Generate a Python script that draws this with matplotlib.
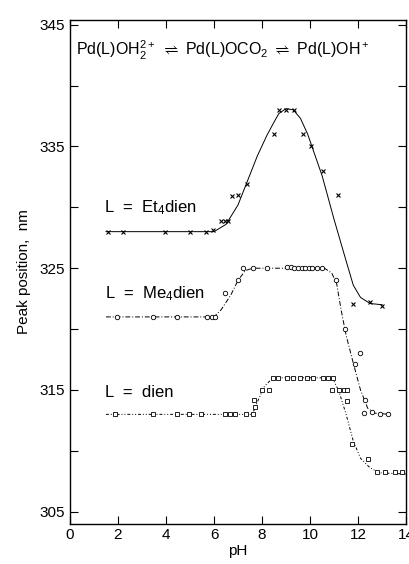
import matplotlib
matplotlib.use("Agg")
import matplotlib.pyplot as plt
from matplotlib.ticker import MultipleLocator

# --- data ---
et4_ph = [1.6, 2.2, 3.97, 5.0, 5.67, 5.97, 6.3, 6.46, 6.6, 6.74, 7.01, 7.36,
          8.5, 8.71, 8.99, 9.33, 9.72, 10.03, 10.53, 11.15, 11.8, 12.5, 13.0]
et4_nm = [328, 328, 328, 328, 328, 328.1, 328.9, 328.9, 328.9, 330.9, 331, 331.9,
          336, 338, 338, 338, 336, 335, 333, 331, 322.1, 322.2, 321.9]

me4_ph = [1.94, 3.47, 4.44, 5.69, 5.9, 6.05, 6.46, 7.01, 7.19, 7.64, 8.22,
          9.03, 9.2, 9.35, 9.5, 9.65, 9.8, 9.95, 10.1, 10.3, 10.5,
          11.07, 11.46, 11.85, 12.08, 12.3, 12.26, 12.57, 12.92, 13.26]
me4_nm = [321, 321, 321, 321, 321, 321, 323, 324, 325, 325, 325,
          325.1, 325.1, 325, 325, 325, 325, 325, 325, 325, 325,
          324, 320, 317.1, 318, 314.2, 313.1, 313.2, 313, 313]

dien_ph = [1.88, 3.47, 4.44, 4.97, 5.46, 6.46, 6.67, 6.88, 7.33, 7.64, 7.68, 7.71,
           8.0, 8.3, 8.47, 8.68, 9.03, 9.3, 9.58, 9.86, 10.14, 10.55, 10.76, 10.97,
           10.9, 11.2, 11.4, 11.53, 11.53, 11.74, 12.43, 12.8, 13.12, 13.54, 13.82]
dien_nm = [313, 313, 313, 313, 313, 313, 313, 313, 313, 313, 314.2, 313.6,
           315, 315, 316, 316, 316, 316, 316, 316, 316, 316, 316, 316,
           315, 315, 315, 315, 314.1, 310.6, 309.3, 308.3, 308.3, 308.3, 308.3]

# hand-drawn fit curves
et4_curve_ph = [1.5, 6.0, 6.5, 7.0, 7.36, 7.8, 8.2, 8.5, 8.7, 9.0, 9.3, 9.6, 9.9,
                10.2, 10.5, 11.0, 11.5, 11.8, 12.1, 12.5, 13.0]
et4_curve_nm = [328, 328, 328.6, 330.2, 332, 334.2, 335.9, 337, 337.7, 338.1, 338.0,
                337.3, 336, 334.3, 332.6, 329, 325.6, 323.6, 322.6, 322.1, 322]

me4_curve_ph = [1.5, 6.0, 6.3, 6.7, 7.0, 7.3, 7.6, 10.6, 10.9, 11.1, 11.3, 11.5,
                11.8, 12.1, 12.4, 12.7, 13.3]
me4_curve_nm = [321, 321, 321.6, 322.8, 324, 324.8, 325, 325, 324.6, 323.8, 321.5,
                319.5, 317.2, 315, 313.5, 313.1, 313]

dien_curve_ph = [1.5, 7.6, 7.8, 8.1, 8.4, 8.7, 10.8, 11.0, 11.2, 11.5, 11.8, 12.1,
                 12.5, 12.9, 14.0]
dien_curve_nm = [313, 313, 314, 315.3, 315.9, 316, 316, 315.7, 314.9, 313, 310.8,
                 309.4, 308.6, 308.2, 308.1]

plt.rcParams["font.family"] = ["Liberation Sans", "DejaVu Sans"]
plt.rcParams["mathtext.fontset"] = "custom"
plt.rcParams["mathtext.rm"] = "Liberation Sans"
plt.rcParams["mathtext.it"] = "Liberation Sans"

fig = plt.figure(figsize=(4.09, 5.64), dpi=100)
ax = fig.add_axes([0.171, 0.071, 0.822, 0.894])

ax.plot(et4_curve_ph, et4_curve_nm, color="k", lw=0.7, ls="-")
ax.plot(me4_curve_ph, me4_curve_nm, color="k", lw=0.7, ls=(0, (5, 2, 1, 2)))
ax.plot(dien_curve_ph, dien_curve_nm, color="k", lw=0.7, ls=(0, (3, 2, 1, 2, 1, 2)))

ax.plot(et4_ph, et4_nm, ls="none", marker="x", ms=3.2, mew=0.8, color="k")
ax.plot(me4_ph, me4_nm, ls="none", marker="o", ms=3.2, mew=0.6, mfc="white", mec="k")
ax.plot(dien_ph, dien_nm, ls="none", marker="s", ms=2.8, mew=0.6, mfc="white", mec="k")

ax.text(1.4, 330, r"L  =  Et$_4$dien", fontsize=12, va="center")
ax.text(1.45, 322.9, r"L  =  Me$_4$dien", fontsize=12, va="center")
ax.text(1.45, 314.8, r"L  =  dien", fontsize=12, va="center")
ax.text(0.25, 342.9,
        r"Pd(L)OH$_2^{2+}$ $\rightleftharpoons$ Pd(L)OCO$_2$ $\rightleftharpoons$ Pd(L)OH$^+$",
        fontsize=11.5, va="center")

ax.set_xlim(0, 14)
ax.set_ylim(304, 345.4)
ax.xaxis.set_major_locator(MultipleLocator(2))
ax.yaxis.set_minor_locator(MultipleLocator(5))
ax.set_yticks([305, 315, 325, 335, 345])
ax.tick_params(which="both", direction="in", top=True, right=True, length=6,
               width=0.8, labelsize=11)
ax.tick_params(axis="x", pad=3)
for s in ax.spines.values():
    s.set_linewidth(1.0)

ax.set_xlabel("pH", fontsize=11, labelpad=1)
ax.set_ylabel("Peak position,  nm", fontsize=11, labelpad=6)

fig.savefig("out.png", dpi=100)
